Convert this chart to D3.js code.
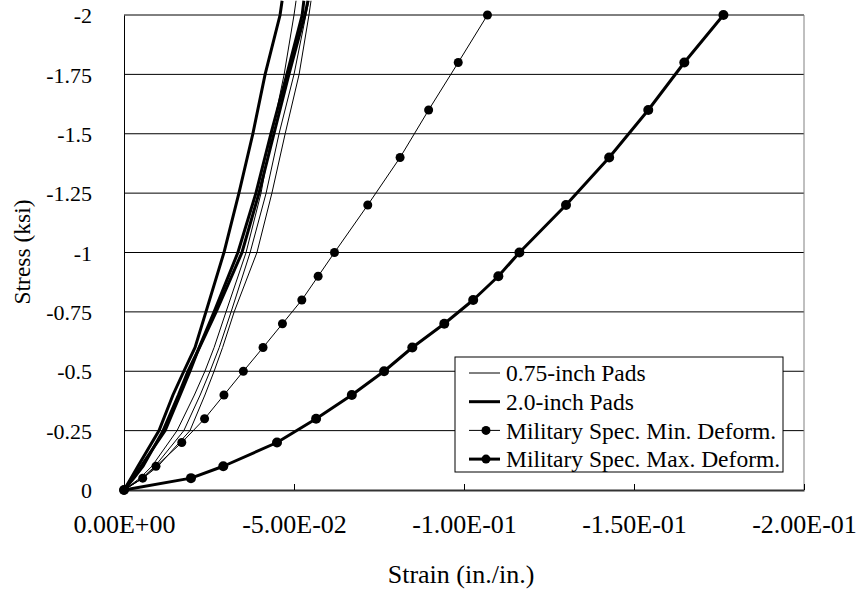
<!DOCTYPE html>
<html>
<head>
<meta charset="utf-8">
<script src="https://cdn.jsdelivr.net/npm/d3@7"></script>
<style>
  html, body { margin: 0; padding: 0; background: #fff; }
  svg { display: block; }
</style>
</head>
<body>
<svg id="chart" width="860" height="590"></svg>
<script>
// Stress levels (ksi) shared by the measured pad curves
const padStress = [0, -0.05, -0.1, -0.25, -0.4, -0.5, -0.6, -0.75, -1, -1.25, -1.5, -1.75, -2, -2.06];

// 2.0-inch pad tests (strain, in./in.)
const pad20a = [0, -0.0021, -0.0041, -0.0103, -0.0144, -0.0176, -0.0209, -0.0241, -0.0294, -0.0338, -0.0379, -0.0415, -0.0459, -0.0465];
const pad20b = [0, -0.0026, -0.0050, -0.0121, -0.0165, -0.0194, -0.0221, -0.0265, -0.0335, -0.0388, -0.0432, -0.0479, -0.0524, -0.0529];
const pad20c = [0, -0.0029, -0.0056, -0.0115, -0.0160, -0.0188, -0.0222, -0.0271, -0.0347, -0.0397, -0.0441, -0.0485, -0.0532, -0.0541];

// 0.75-inch pad tests (strain, in./in.)
const pad075a = [0, -0.0047, -0.0082, -0.0156, -0.0207, -0.0238, -0.0265, -0.0300, -0.0359, -0.0403, -0.0435, -0.0471, -0.0500, -0.0506];
const pad075b = [0, -0.0053, -0.0091, -0.0176, -0.0224, -0.0253, -0.0280, -0.0315, -0.0371, -0.0418, -0.0456, -0.0500, -0.0535, -0.0544];
const pad075c = [0, -0.0056, -0.0100, -0.0194, -0.0238, -0.0265, -0.0290, -0.0324, -0.0391, -0.0435, -0.0474, -0.0515, -0.0544, -0.0550];

// Military specification limits
const specStress = [0, -0.05, -0.1, -0.2, -0.3, -0.4, -0.5, -0.6, -0.7, -0.8, -0.9, -1, -1.2, -1.4, -1.6, -1.8, -2];
const specMinStrain = [0, -0.0055, -0.0094, -0.0170, -0.0237, -0.0294, -0.0351, -0.0409, -0.0466, -0.0523, -0.0571, -0.0619, -0.0717, -0.0812, -0.0896, -0.0983, -0.1069];
const specMaxStrain = [0, -0.0197, -0.0292, -0.0450, -0.0565, -0.0670, -0.0765, -0.0848, -0.0942, -0.1027, -0.1101, -0.1163, -0.1300, -0.1427, -0.1542, -0.1648, -0.1763];

// Axis ticks
const xTicks = [0, -0.05, -0.1, -0.15, -0.2];
const yTicks = [0, -0.25, -0.5, -0.75, -1, -1.25, -1.5, -1.75, -2];

const legendLabels = ["0.75-inch Pads", "2.0-inch Pads", "Military Spec. Min. Deform.", "Military Spec. Max. Deform."];

const FONT = '"Liberation Serif", "Times New Roman", serif';

const svg = d3.select("#chart");
const x = d3.scaleLinear().domain([0, -0.2]).range([124, 804]);
const y = d3.scaleLinear().domain([0, -2]).range([490, 15]);

const zip = (xs, ys) => xs.map((v, i) => [v, ys[i]]);
const line = d3.line().x(d => x(d[0])).y(d => y(d[1]));

// Horizontal gridlines
svg.append("g").selectAll("line").data(yTicks.filter(t => t !== 0)).join("line")
  .attr("x1", x(0)).attr("x2", x(-0.2))
  .attr("y1", d => y(d)).attr("y2", d => y(d))
  .attr("stroke", "#000").attr("stroke-width", 1);

// Plot frame (top/right)
svg.append("path")
  .attr("d", `M${x(0)},${y(-2)}H${x(-0.2)}V${y(0)}`)
  .attr("fill", "none").attr("stroke", "#808080").attr("stroke-width", 1);

// Axes
const xAxis = d3.axisBottom(x).tickValues(xTicks).tickSizeInner(-6).tickSizeOuter(0)
  .tickFormat(v => {
    const s = v.toExponential(2).toUpperCase();
    return s.replace(/E([+-])(\d)$/, "E$10$2");
  });
const gx = svg.append("g").attr("transform", `translate(0,${y(0)})`).call(xAxis);
gx.select(".domain").attr("stroke", "#333").attr("stroke-width", 2);
gx.selectAll(".tick line").attr("stroke", "#000");
gx.selectAll(".tick text").attr("y", 43).attr("dy", null)
  .style("font-family", FONT).style("font-size", "26px").attr("fill", "#000");

const yAxis = d3.axisLeft(y).tickValues(yTicks).tickSize(0).tickFormat(v => String(v));
const gy = svg.append("g").attr("transform", `translate(${x(0)},0)`).call(yAxis);
gy.select(".domain").attr("stroke", "#000").attr("stroke-width", 1);
gy.selectAll(".tick text").attr("x", -32).attr("dy", "0.35em")
  .style("font-family", FONT).style("font-size", "22px").attr("fill", "#000");

// Axis titles
svg.append("text").attr("x", 461).attr("y", 583).attr("text-anchor", "middle")
  .style("font-family", FONT).style("font-size", "26px").text("Strain (in./in.)");
svg.append("text").attr("transform", "translate(30,252) rotate(-90)").attr("text-anchor", "middle")
  .style("font-family", FONT).style("font-size", "23.5px").text("Stress (ksi)");

// Measured pad curves
const curves = svg.append("g");
[pad075a, pad075b, pad075c].forEach(s => {
  curves.append("path").attr("d", line(zip(s, padStress)))
    .attr("fill", "none").attr("stroke", "#000").attr("stroke-width", 1);
});
[pad20a, pad20b, pad20c].forEach(s => {
  curves.append("path").attr("d", line(zip(s, padStress)))
    .attr("fill", "none").attr("stroke", "#000").attr("stroke-width", 3);
});

// Specification curves with markers
function specSeries(strains, width, r) {
  const pts = zip(strains, specStress);
  const g = svg.append("g");
  g.append("path").attr("d", line(pts)).attr("fill", "none")
    .attr("stroke", "#000").attr("stroke-width", width).attr("stroke-linejoin", "round");
  g.selectAll("circle").data(pts).join("circle")
    .attr("cx", d => x(d[0])).attr("cy", d => y(d[1])).attr("r", r).attr("fill", "#000");
}
specSeries(specMinStrain, 1, 4.5);
specSeries(specMaxStrain, 3, 5);

// Legend
const lg = svg.append("g").attr("transform", "translate(455,357)");
lg.append("rect").attr("x", 0).attr("y", 0).attr("width", 328).attr("height", 115)
  .attr("fill", "#fff").attr("stroke", "#000").attr("stroke-width", 1);
const styles = [
  { w: 1, dot: false }, { w: 3, dot: false }, { w: 1, dot: true }, { w: 3, dot: true }
];
legendLabels.forEach((lab, i) => {
  const cy = 16 + i * 28.7;
  const row = lg.append("g");
  row.append("line").attr("x1", 14).attr("x2", 45).attr("y1", cy).attr("y2", cy)
    .attr("stroke", "#000").attr("stroke-width", styles[i].w);
  if (styles[i].dot) row.append("circle").attr("cx", 31).attr("cy", cy).attr("r", 4.5).attr("fill", "#000");
  row.append("text").attr("x", 51).attr("y", cy).attr("dy", "0.35em")
    .style("font-family", FONT).style("font-size", "23.5px").text(lab);
});
</script>
</body>
</html>
